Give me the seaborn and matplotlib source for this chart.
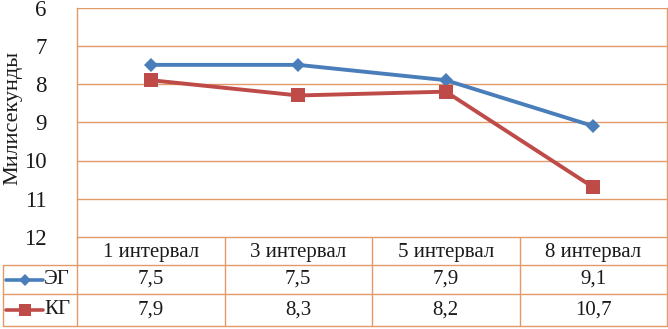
import pandas as pd
import matplotlib.pyplot as plt
import seaborn as sns

# данные
intervals = ["1 интервал", "3 интервал", "5 интервал", "8 интервал"]
groups = ["ЭГ", "КГ"]
eg_values = [7.5, 7.5, 7.9, 9.1]
kg_values = [7.9, 8.3, 8.2, 10.7]
y_ticks = [6, 7, 8, 9, 10, 11, 12]

W, H = 668, 329
GRID = "#E19A68"
COLORS = {"ЭГ": "#4A7EBB", "КГ": "#BE4B48"}
MARKERS = {"ЭГ": "D", "КГ": "s"}
MSIZE = {"ЭГ": 7.6, "КГ": 9.6}


def fx(px):
    return px / W


def fy(py):
    return 1 - py / H


sns.set_theme(style="white")
plt.rcParams["font.family"] = ["Liberation Serif", "DejaVu Serif"]

df = pd.DataFrame({
    "interval": intervals * 2,
    "value": eg_values + kg_values,
    "group": [groups[0]] * 4 + [groups[1]] * 4,
})

fig = plt.figure(figsize=(W / 100, H / 100), dpi=100)
fig.patch.set_facecolor("white")

x_left, x_right = 77, 667
y_top, y_bot = 7.5, 237
ax = fig.add_axes([fx(x_left), fy(y_bot), fx(x_right - x_left), (y_bot - y_top) / H])

for g in groups:
    sub = df[df["group"] == g]
    sns.lineplot(data=sub, x="interval", y="value", color=COLORS[g], marker=MARKERS[g],
                 markersize=MSIZE[g], markeredgewidth=0, linewidth=2.8, sort=False,
                 ax=ax, zorder=3)

ax.set_xlim(-0.5, len(intervals) - 0.5)
ax.set_ylim(max(y_ticks), min(y_ticks))
ax.set_yticks(y_ticks)
ax.set_yticklabels([str(t) for t in y_ticks], fontsize=16.5, color="#1a1a1a")
ax.tick_params(axis="y", length=0, pad=22)
ax.set_xticks([])
ax.set_xlabel("")
ax.set_ylabel("Милисекунды", fontsize=16, color="#1a1a1a")
ax.yaxis.set_label_coords(-0.093, 0.52)
for t in y_ticks:
    ax.axhline(t, color=GRID, lw=1, zorder=1)
for side in ["left", "right"]:
    ax.spines[side].set_color(GRID)
    ax.spines[side].set_linewidth(1)
ax.spines["top"].set_visible(False)
ax.spines["bottom"].set_visible(False)

# таблица данных
tax = fig.add_axes([0, 0, 1, 1], zorder=-1)
tax.set_xlim(0, W)
tax.set_ylim(H, 0)
tax.axis("off")

col_edges = [77, 224.5, 372, 519.5, 667]
row_edges = [237, 265, 294, 326]
tbl_left = 3

tax.plot([col_edges[0], col_edges[-1]], [row_edges[0]] * 2, color=GRID, lw=1)
for y in row_edges[1:]:
    tax.plot([tbl_left, col_edges[-1]], [y, y], color=GRID, lw=1)
for x in col_edges:
    tax.plot([x, x], [row_edges[0], row_edges[-1]], color=GRID, lw=1)
tax.plot([tbl_left, tbl_left], [row_edges[1], row_edges[-1]], color=GRID, lw=1)

for i, lab in enumerate(intervals):
    cx = (col_edges[i] + col_edges[i + 1]) / 2
    tax.text(cx, (row_edges[0] + row_edges[1]) / 2 + 1, lab, ha="center", va="center",
             fontsize=15, color="#1a1a1a")

for r, (g, vals) in enumerate(zip(groups, [eg_values, kg_values])):
    cy = (row_edges[r + 1] + row_edges[r + 2]) / 2
    tax.plot([6, 43], [cy, cy], color=COLORS[g], lw=2.6)
    tax.plot([24.5], [cy], marker=MARKERS[g], color=COLORS[g], markersize=MSIZE[g] * 0.85,
             markeredgewidth=0)
    tax.text(44, cy, g, ha="left", va="center", fontsize=15, color="#1a1a1a")
    for i, v in enumerate(vals):
        cx = (col_edges[i] + col_edges[i + 1]) / 2
        tax.text(cx, cy, f"{v:.1f}".replace(".", ","), ha="center", va="center",
                 fontsize=15, color="#1a1a1a")

plt.savefig("out.png", dpi=100)
plt.close()
